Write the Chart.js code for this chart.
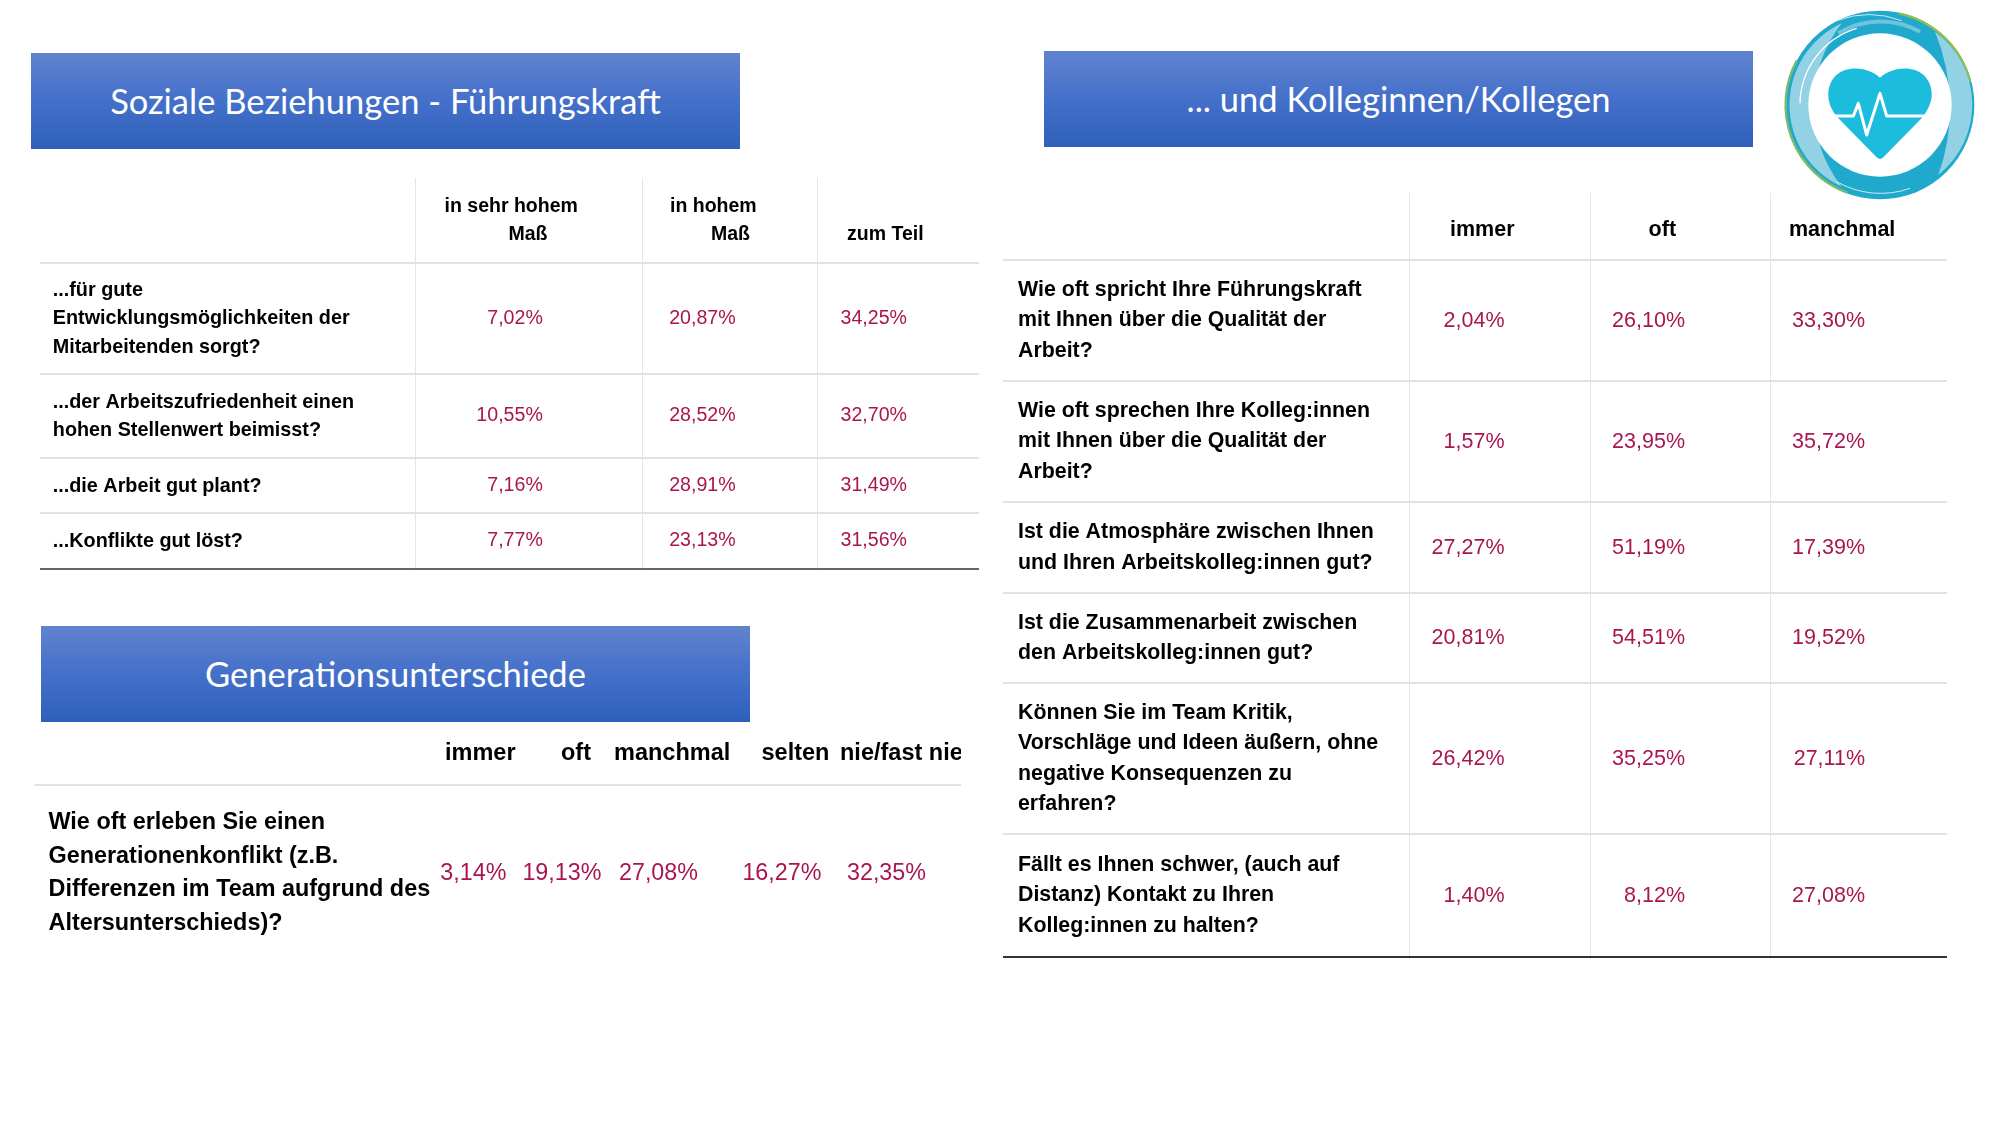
<!DOCTYPE html>
<html lang="de">
<head>
<meta charset="utf-8">
<title>Soziale Beziehungen</title>
<script src="https://cdn.jsdelivr.net/npm/chart.js@4/dist/chart.umd.min.js"></script>
<style>
  html, body { margin: 0; padding: 0; background: #fff; }
  #page { position: relative; width: 2000px; height: 1125px; overflow: hidden; }
  canvas { position: absolute; }
  .banner {
    position: absolute; width: 709px; height: 96px; line-height: 96px;
    text-align: center; color: #fff; font-family: Lato, sans-serif; font-size: 34.5px;
    background: linear-gradient(#6083cf, #4470ca 50%, #2f60b9);
  }
  #logo { position: absolute; left: 1770px; top: 0; }
</style>
</head>
<body>
<div id="page">
  <div class="banner" style="left:31px;top:53px">Soziale Beziehungen - Führungskraft</div>
  <div class="banner" style="left:1044px;top:51px">... und Kolleginnen/Kollegen</div>
  <div class="banner" style="left:41px;top:626px">Generationsunterschiede</div>
  <svg id="logo" width="230" height="210" viewBox="0 0 690 630">
    <circle cx="330" cy="315" r="283" fill="#1fa9cc"/>
    <path d="M 80 182 A 280 280 0 0 0 232 578" fill="none" stroke="#7dbb6a" stroke-width="7"/>
    <path d="M 385 40 A 280 280 0 0 1 600 245" fill="none" stroke="#8dc04a" stroke-width="7"/>
    <path d="M 215 70 A 270 270 0 0 0 215 560 A 400 400 0 0 1 215 70 Z" fill="#93d2e5"/>
    <path d="M 495 95 A 270 270 0 0 1 505 525 A 600 600 0 0 0 495 95 Z" fill="#93d2e5"/>
    <path d="M 205 100 A 245 245 0 0 1 450 95" fill="none" stroke="#6fc3dc" stroke-width="12"/>
    <path d="M 90 310 A 240 240 0 0 1 260 85" fill="none" stroke="#fff" stroke-width="4"/>
    <path d="M 200 62 A 275 275 0 0 1 395 62" fill="none" stroke="#cfeaf3" stroke-width="3"/>
    <path d="M 200 545 A 265 265 0 0 0 420 565" fill="none" stroke="#cfeaf3" stroke-width="3"/>
    <circle cx="330" cy="315" r="215" fill="#fff"/>
    <path d="M330 233 C360 205 405 200 435 210 C470 222 488 255 485 290 C482 315 470 335 455 355 L340 472 Q330 482 320 472 L205 355 C188 335 177 315 175 290 C172 255 190 222 225 210 C255 200 300 205 330 233 Z" fill="#1bbcdc"/>
    <polyline points="195,348 250,348 265,310 290,405 330,280 350,348 465,348" fill="none" stroke="#fff" stroke-width="9" stroke-linejoin="round"/>
  </svg>
</div>
<script>
// Soziale Beziehungen - Fuehrungskraft
const leaderHeaders = [["in sehr hohem", "Maß"], ["in hohem", "Maß"], ["zum Teil"]];
const leaderRows = [
  ["...für gute", "Entwicklungsmöglichkeiten der", "Mitarbeitenden sorgt?"],
  ["...der Arbeitszufriedenheit einen", "hohen Stellenwert beimisst?"],
  ["...die Arbeit gut plant?"],
  ["...Konflikte gut löst?"]
];
const leaderVeryHigh = [7.02, 10.55, 7.16, 7.77];
const leaderHigh = [20.87, 28.52, 28.91, 23.13];
const leaderPartly = [34.25, 32.70, 31.49, 31.56];

// ... und Kolleginnen/Kollegen
const teamHeaders = [["immer"], ["oft"], ["manchmal"]];
const teamRows = [
  ["Wie oft spricht Ihre Führungskraft", "mit Ihnen über die Qualität der", "Arbeit?"],
  ["Wie oft sprechen Ihre Kolleg:innen", "mit Ihnen über die Qualität der", "Arbeit?"],
  ["Ist die Atmosphäre zwischen Ihnen", "und Ihren Arbeitskolleg:innen gut?"],
  ["Ist die Zusammenarbeit zwischen", "den Arbeitskolleg:innen gut?"],
  ["Können Sie im Team Kritik,", "Vorschläge und Ideen äußern, ohne", "negative Konsequenzen zu", "erfahren?"],
  ["Fällt es Ihnen schwer, (auch auf", "Distanz) Kontakt zu Ihren", "Kolleg:innen zu halten?"]
];
const teamAlways = [2.04, 1.57, 27.27, 20.81, 26.42, 1.40];
const teamOften = [26.10, 23.95, 51.19, 54.51, 35.25, 8.12];
const teamSometimes = [33.30, 35.72, 17.39, 19.52, 27.11, 27.08];

// Generationsunterschiede
const generationHeaders = [["immer"], ["oft"], ["manchmal"], ["selten"], ["nie/fast nie"]];
const generationRows = [
  ["Wie oft erleben Sie einen", "Generationenkonflikt (z.B.", "Differenzen im Team aufgrund des", "Altersunterschieds)?"]
];
const generationAlways = [3.14];
const generationOften = [19.13];
const generationSometimes = [27.08];
const generationRarely = [16.27];
const generationNever = [32.35];

function formatPercent(value){
  return value.toFixed(2).replace(".", ",") + "%";
}

function makeTable(id, cfg){
  const canvas = document.createElement("canvas");
  canvas.id = id;
  canvas.width = cfg.xMax - cfg.xMin;
  canvas.height = cfg.yMax - cfg.yMin;
  canvas.style.left = cfg.xMin + "px";
  canvas.style.top = cfg.yMin + "px";
  canvas.style.width = canvas.width + "px";
  canvas.style.height = canvas.height + "px";
  document.getElementById("page").appendChild(canvas);

  const centers = [];
  for(let i = 0; i < cfg.rows.length; i++){
    centers.push((cfg.rowEdges[i] + cfg.rowEdges[i + 1]) / 2);
  }
  const datasets = cfg.series.map(function(values, c){
    return {
      data: values.map(function(v, r){
        return {x: cfg.valueRight[c], y: centers[r] + cfg.valueDy, value: v};
      }),
      pointRadius: 0
    };
  });

  const tableText = {
    id: "tableText",
    afterDatasetsDraw: function(chart){
      const ctx = chart.ctx;
      const sx = chart.scales.x;
      const sy = chart.scales.y;
      ctx.save();
      ctx.textBaseline = "middle";

      ctx.fillStyle = "#000";
      ctx.textAlign = "left";
      ctx.font = "bold " + cfg.headFont + "px 'Liberation Sans'";
      cfg.headers.forEach(function(lines, c){
        lines.forEach(function(line, l){
          ctx.fillText(line, sx.getPixelForValue(cfg.headX[c][l]), sy.getPixelForValue(cfg.headY[c][l]));
        });
      });

      ctx.font = "bold " + cfg.labelFont + "px 'Liberation Sans'";
      cfg.rows.forEach(function(lines, r){
        const first = centers[r] + cfg.labelDy - (lines.length - 1) * cfg.lineHeight / 2;
        lines.forEach(function(line, l){
          ctx.fillText(line, sx.getPixelForValue(cfg.labelX), sy.getPixelForValue(first + l * cfg.lineHeight));
        });
      });

      ctx.fillStyle = "#a9164f";
      ctx.textAlign = "right";
      ctx.font = cfg.valueFont + "px 'Liberation Sans'";
      chart.data.datasets.forEach(function(ds, d){
        chart.getDatasetMeta(d).data.forEach(function(pt, i){
          ctx.fillText(formatPercent(ds.data[i].value), pt.x, pt.y);
        });
      });
      ctx.restore();
    }
  };

  return new Chart(canvas, {
    type: "scatter",
    data: {datasets: datasets},
    plugins: [tableText],
    options: {
      responsive: false,
      animation: false,
      devicePixelRatio: 1,
      layout: {padding: 0},
      plugins: {legend: {display: false}, tooltip: {enabled: false}},
      scales: {
        x: {
          type: "linear",
          min: cfg.xMin,
          max: cfg.xMax,
          ticks: {display: false},
          border: {display: false},
          afterBuildTicks: function(scale){
            scale.ticks = cfg.colEdges.map(function(v){ return {value: v}; });
          },
          grid: {display: cfg.colEdges.length > 0, color: "#e6e6e6", lineWidth: 1, drawTicks: false}
        },
        y: {
          type: "linear",
          reverse: true,
          min: cfg.yMin,
          max: cfg.yMax,
          ticks: {display: false},
          border: {display: false},
          afterBuildTicks: function(scale){
            scale.ticks = cfg.lineEdges.map(function(v){ return {value: v}; });
          },
          grid: {
            drawTicks: false,
            lineWidth: 2,
            color: function(c){ return c.tick && c.tick.value === cfg.closeLine ? cfg.closeColor : "#e2e2e2"; }
          }
        }
      }
    }
  });
}

makeTable("leaderTable", {
  xMin: 40, xMax: 979, yMin: 178, yMax: 571,
  colEdges: [415, 642, 817],
  rowEdges: [262.5, 374, 458, 513, 568.5],
  lineEdges: [262.5, 374, 458, 513, 568.5],
  closeLine: 568.5, closeColor: "#666",
  headers: leaderHeaders,
  headX: [[444.6, 508.4], [670, 711], [847]],
  headY: [[207, 235], [207, 235], [235]],
  rows: leaderRows,
  series: [leaderVeryHigh, leaderHigh, leaderPartly],
  valueRight: [542.8, 735.6, 907],
  valueDy: 0,
  labelDy: 0.7,
  labelX: 52.8, lineHeight: 28.5,
  headFont: 19.5, labelFont: 19.8, valueFont: 19.6
});

makeTable("teamTable", {
  xMin: 1003, xMax: 1947, yMin: 193, yMax: 959,
  colEdges: [1409.5, 1590, 1770],
  rowEdges: [260, 381, 502, 593, 683, 834, 957],
  lineEdges: [260, 381, 502, 593, 683, 834, 957],
  closeLine: 957, closeColor: "#333",
  headers: teamHeaders,
  headX: [[1450], [1648.6], [1789]],
  headY: [[230], [230], [230]],
  rows: teamRows,
  series: [teamAlways, teamOften, teamSometimes],
  valueRight: [1504.5, 1685, 1865],
  valueDy: 0.5,
  labelDy: 0,
  labelX: 1018, lineHeight: 30.5,
  headFont: 21.5, labelFont: 21.35, valueFont: 21.5
});

makeTable("generationTable", {
  xMin: 34, xMax: 961, yMin: 732, yMax: 960,
  colEdges: [],
  rowEdges: [787, 960],
  lineEdges: [785],
  closeLine: null, closeColor: "#e2e2e2",
  headers: generationHeaders,
  headX: [[445], [561], [614], [761.5], [840]],
  headY: [[754], [754], [754], [754], [754]],
  rows: generationRows,
  series: [generationAlways, generationOften, generationSometimes, generationRarely, generationNever],
  valueRight: [506.4, 601.4, 698, 821.4, 926],
  valueDy: 0,
  labelDy: -0.5,
  labelX: 48.5, lineHeight: 33.7,
  headFont: 23.5, labelFont: 23.4, valueFont: 23.3
});
</script>
</body>
</html>
